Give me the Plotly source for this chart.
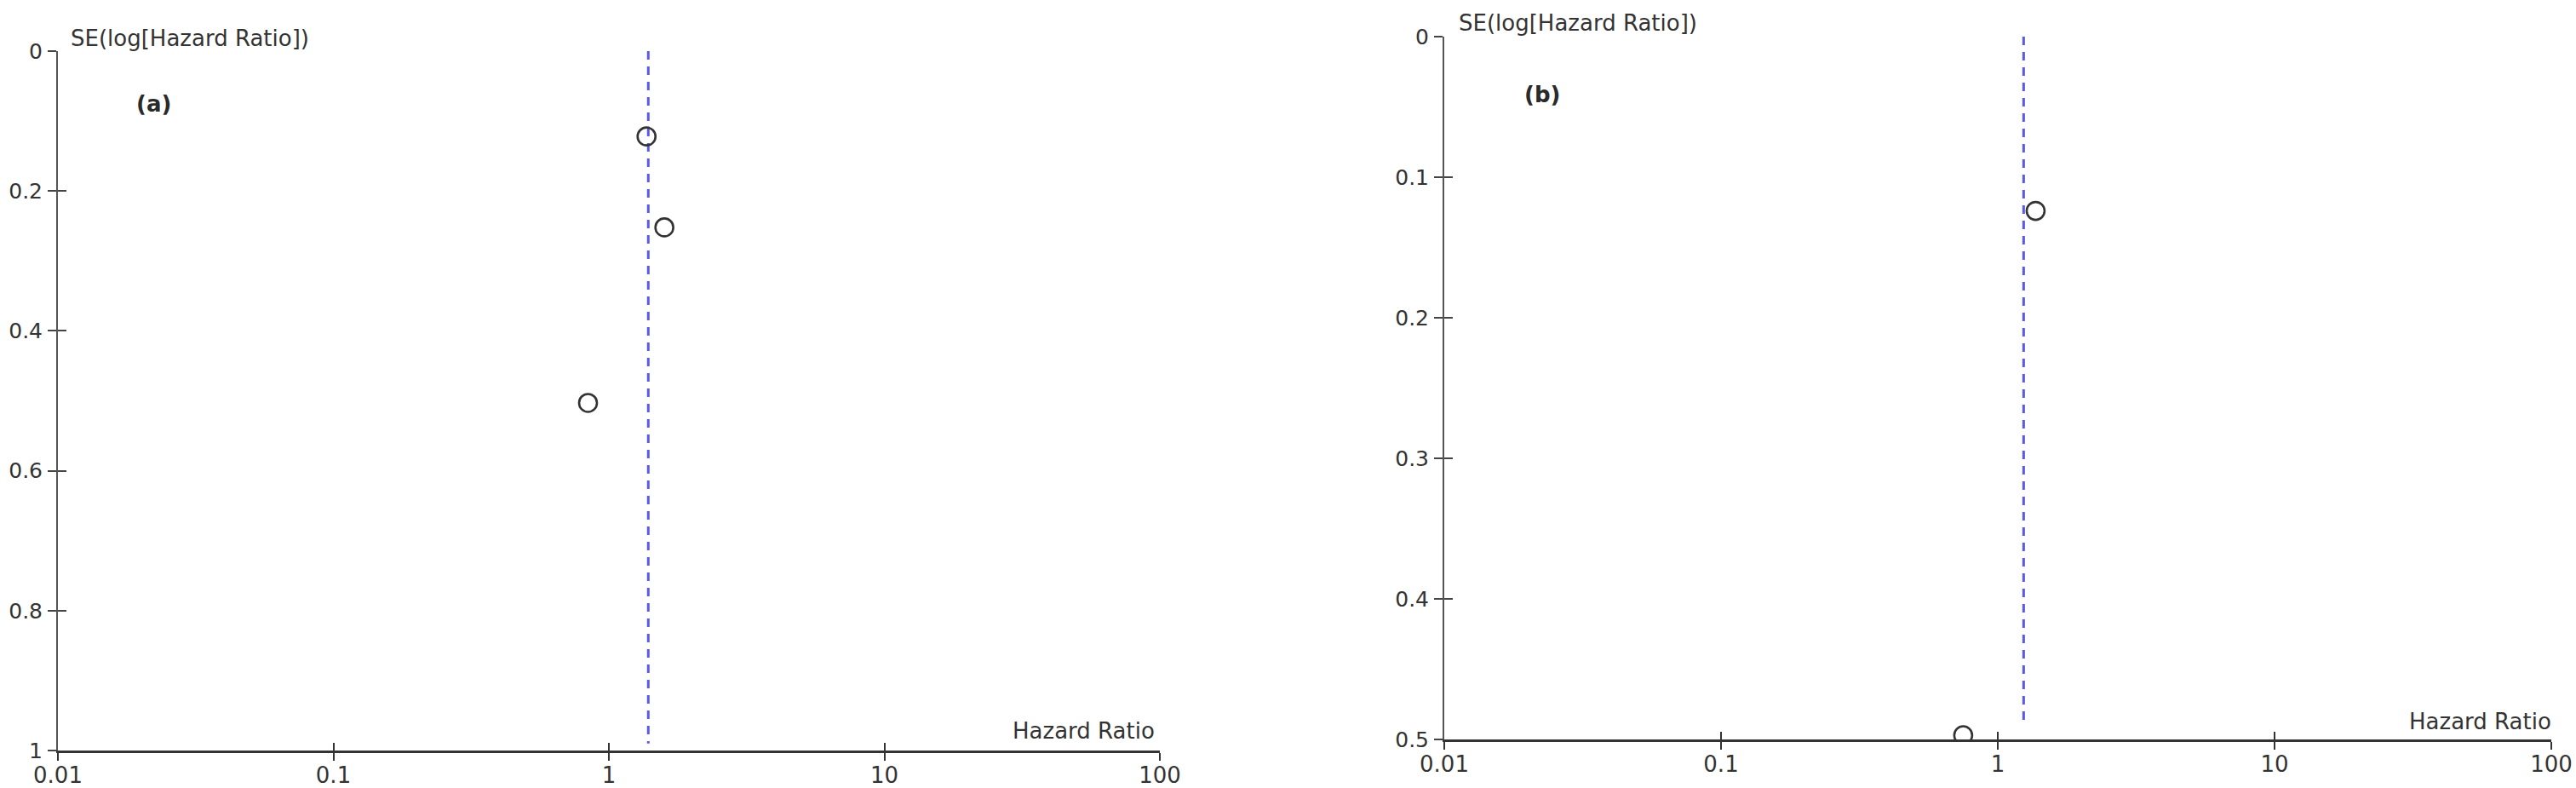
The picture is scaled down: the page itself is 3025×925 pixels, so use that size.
import plotly.graph_objects as go

# ---- data ----
tick_x_vals = [0.01, 0.1, 1, 10, 100]
tick_x_text = ["0.01", "0.1", "1", "10", "100"]

a_hr = [1.37, 1.59, 0.84]
a_se = [0.122, 0.252, 0.503]
a_pooled = 1.39
a_line_se = [0.0, 0.99]
a_yticks = [0, 0.2, 0.4, 0.6, 0.8, 1]
a_ytext = ["0", "0.2", "0.4", "0.6", "0.8", "1"]

b_hr = [1.37, 0.75]
b_se = [0.124, 0.497]
b_pooled = 1.24
b_line_se = [0.0, 0.49]
b_yticks = [0, 0.1, 0.2, 0.3, 0.4, 0.5]
b_ytext = ["0", "0.1", "0.2", "0.3", "0.4", "0.5"]

W, H = 3025, 925
FONT = "DejaVu Sans"
TXT = "#333333"
BLUE = "#5a5ae6"


def px(x):
    return x / W


def py(y):
    return 1 - y / H


fig = go.Figure()

marker = dict(symbol="circle-open", size=21, color="#333333", line=dict(width=2.6, color="#333333"))
dash = dict(color=BLUE, width=3, dash="10px,8px")

# panel (a)
fig.add_trace(go.Scatter(x=[a_pooled, a_pooled], y=a_line_se, mode="lines", line=dash,
                         xaxis="x", yaxis="y", hoverinfo="skip"))
fig.add_trace(go.Scatter(x=a_hr, y=a_se, mode="markers", marker=marker, xaxis="x", yaxis="y"))
# panel (b)
fig.add_trace(go.Scatter(x=[b_pooled, b_pooled], y=b_line_se, mode="lines", line=dash,
                         xaxis="x2", yaxis="y2", hoverinfo="skip"))
fig.add_trace(go.Scatter(x=b_hr, y=b_se, mode="markers", marker=marker, xaxis="x2", yaxis="y2"))

# invisible traces for the overlay axes that draw inward tick halves
for xa, ya, xv, yv in [("x3", "y", a_hr, a_se), ("x", "y3", a_hr, a_se),
                       ("x4", "y2", b_hr, b_se), ("x2", "y4", b_hr, b_se)]:
    fig.add_trace(go.Scatter(x=xv, y=yv, mode="markers", marker=dict(opacity=0),
                             xaxis=xa, yaxis=ya, hoverinfo="skip"))

xbase = dict(type="log", range=[-2, 2], showgrid=False, zeroline=False, automargin=False,
             tickmode="array", tickvals=tick_x_vals, ticktext=tick_x_text,
             tickfont=dict(family=FONT, size=26, color=TXT))
ybase = dict(showgrid=False, zeroline=False, tickmode="array", automargin=False,
             tickfont=dict(family=FONT, size=25, color=TXT))

xa_dom = [px(68), px(1362)]
xb_dom = [px(1696), px(2996)]
ya_dom = [py(881), py(60)]
yb_dom = [py(868), py(43)]

ov = dict(showgrid=False, zeroline=False, showline=False, automargin=False,
          tickmode="array", showticklabels=False, ticks="inside", tickwidth=2)

fig.update_layout(
    width=W, height=H,
    margin=dict(l=0, r=0, t=0, b=0, autoexpand=False),
    paper_bgcolor="white", plot_bgcolor="white",
    showlegend=False,
    xaxis=dict(**xbase, domain=xa_dom, anchor="y", showline=True, linewidth=3,
               linecolor="#333333", ticks="outside", ticklen=9, tickwidth=2,
               tickcolor="#333333", ticklabelstandoff=-5),
    yaxis=dict(**ybase, domain=ya_dom, anchor="x", range=[1, 0], tickvals=a_yticks,
               ticktext=a_ytext, showline=True, linewidth=2, linecolor="#555555",
               ticks="outside", ticklen=10, tickwidth=2, tickcolor="#444444",
               ticklabelstandoff=1),
    xaxis2=dict(**xbase, domain=xb_dom, anchor="y2", showline=True, linewidth=3,
                linecolor="#333333", ticks="outside", ticklen=9, tickwidth=2,
                tickcolor="#333333", ticklabelstandoff=-5),
    yaxis2=dict(**ybase, domain=yb_dom, anchor="x2", range=[0.5, 0], tickvals=b_yticks,
                ticktext=b_ytext, showline=True, linewidth=2, linecolor="#555555",
                ticks="outside", ticklen=10, tickwidth=2, tickcolor="#444444",
                ticklabelstandoff=1),
    # overlay axes: inward ticks, no labels
    xaxis3=dict(**ov, type="log", range=[-2, 2], overlaying="x", anchor="y",
                tickvals=tick_x_vals, ticklen=9, tickcolor="#333333"),
    yaxis3=dict(**ov, range=[1, 0], overlaying="y", anchor="x", tickvals=a_yticks,
                ticklen=10, tickcolor="#444444"),
    xaxis4=dict(**ov, type="log", range=[-2, 2], overlaying="x2", anchor="y2",
                tickvals=tick_x_vals, ticklen=9, tickcolor="#333333"),
    yaxis4=dict(**ov, range=[0.5, 0], overlaying="y2", anchor="x2", tickvals=b_yticks,
                ticklen=10, tickcolor="#444444"),
)

ann_font = dict(family=FONT, size=26, color=TXT)
lab_font = dict(family=FONT, size=26, color="#2a2a2a", weight="bold")
annotations = [
    dict(text="SE(log[Hazard Ratio])", x=px(82), y=py(45), xanchor="left", yanchor="middle", font=ann_font),
    dict(text="SE(log[Hazard Ratio])", x=px(1712), y=py(27), xanchor="left", yanchor="middle", font=ann_font),
    dict(text="(a)", x=px(159), y=py(122), xanchor="left", yanchor="middle", font=lab_font),
    dict(text="(b)", x=px(1789), y=py(111), xanchor="left", yanchor="middle", font=lab_font),
    dict(text="Hazard Ratio", x=px(1357), y=py(858), xanchor="right", yanchor="middle", font=ann_font),
    dict(text="Hazard Ratio", x=px(2997), y=py(847), xanchor="right", yanchor="middle", font=ann_font),
]
for a in annotations:
    fig.add_annotation(xref="paper", yref="paper", showarrow=False, borderpad=0, **a)

# remove the browser's default 8px body margin so the figure sits at the page origin
fig.write_html("out.html", config={"displayModeBar": False},
               post_script="document.body.style.margin='0';")
